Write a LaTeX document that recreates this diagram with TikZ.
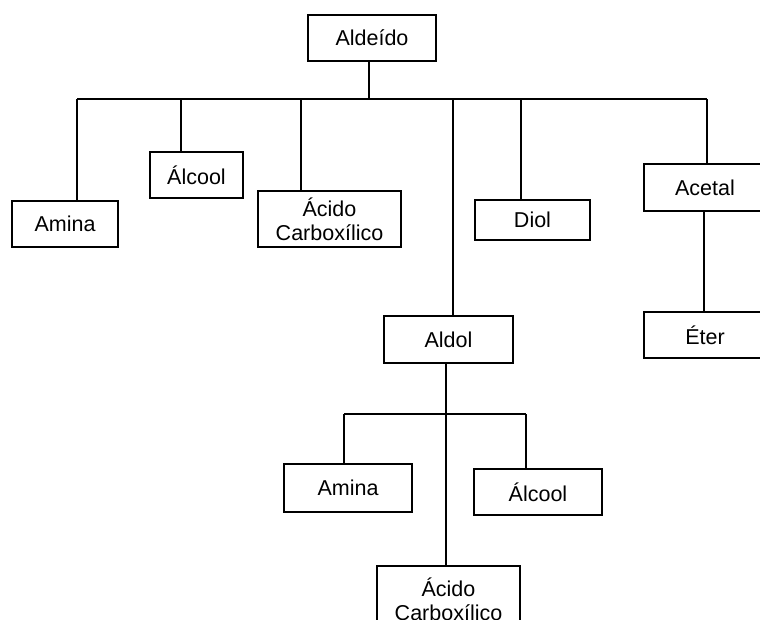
\documentclass[tikz,border=0pt]{standalone}
\usepackage{fontspec}
\setmainfont{Liberation Sans}
\begin{document}
\begin{tikzpicture}[x=1pt,y=-1pt,
  box/.style={draw=black,line width=2pt,rectangle,inner sep=0pt,anchor=north west,align=center,
    font=\fontsize{21.5}{24}\selectfont},
  link/.style={draw=black,line width=2pt}]
\useasboundingbox (0,0) rectangle (760,619);
\clip (0,0) rectangle (760,619);
\fill[white] (0,0) rectangle (760,619);
% nodes
\node[box,minimum width=128pt,minimum height=46pt] (ald) at (307,14) {Aldeído};
\node[box,minimum width=106pt,minimum height=46pt] (am1) at (11,200) {Amina};
\node[box,minimum width=93pt,minimum height=46pt] (alc1) at (149,151) {Álcool};
\node[box,minimum width=143pt,minimum height=56pt] (ac1) at (257,190) {Ácido\\Carboxílico};
\node[box,minimum width=115pt,minimum height=40pt] (diol) at (474,199) {Diol};
\node[box,minimum width=122pt,minimum height=47pt] (acet) at (643,163) {Acetal};
\node[box,minimum width=122pt,minimum height=46pt] (eter) at (643,311) {Éter};
\node[box,minimum width=129pt,minimum height=47pt] (aldol) at (383,315) {Aldol};
\node[box,minimum width=128pt,minimum height=48pt] (am2) at (283,463) {Amina};
\node[box,minimum width=128pt,minimum height=46pt] (alc2) at (473,468) {Álcool};
\node[box,minimum width=143pt,minimum height=66pt] (ac2) at (376,565) {Ácido\\Carboxílico};
% bus coordinates
\coordinate (bus) at (369,99);
\coordinate (b1) at (77,99);
\coordinate (b2) at (181,99);
\coordinate (b3) at (301,99);
\coordinate (b4) at (453,99);
\coordinate (b5) at (521,99);
\coordinate (b6) at (707,99);
\coordinate (sb) at (446,414);
\coordinate (s1) at (344,414);
\coordinate (s2) at (526,414);
% connectors
\draw[link] (ald.south -| bus) -- (bus);
\draw[link] (b1) -- (b6);
\draw[link] (b1) -- (b1 |- am1.north);
\draw[link] (b2) -- (b2 |- alc1.north);
\draw[link] (b3) -- (b3 |- ac1.north);
\draw[link] (b4) -- (b4 |- aldol.north);
\draw[link] (b5) -- (b5 |- diol.north);
\draw[link] (b6) -- (b6 |- acet.north);
\draw[link] (acet.south -| 704,0) -- (eter.north -| 704,0);
\draw[link] (aldol.south -| sb) -- (ac2.north -| sb);
\draw[link] (s1) -- (s2);
\draw[link] (s1) -- (s1 |- am2.north);
\draw[link] (s2) -- (s2 |- alc2.north);
\end{tikzpicture}
\end{document}
